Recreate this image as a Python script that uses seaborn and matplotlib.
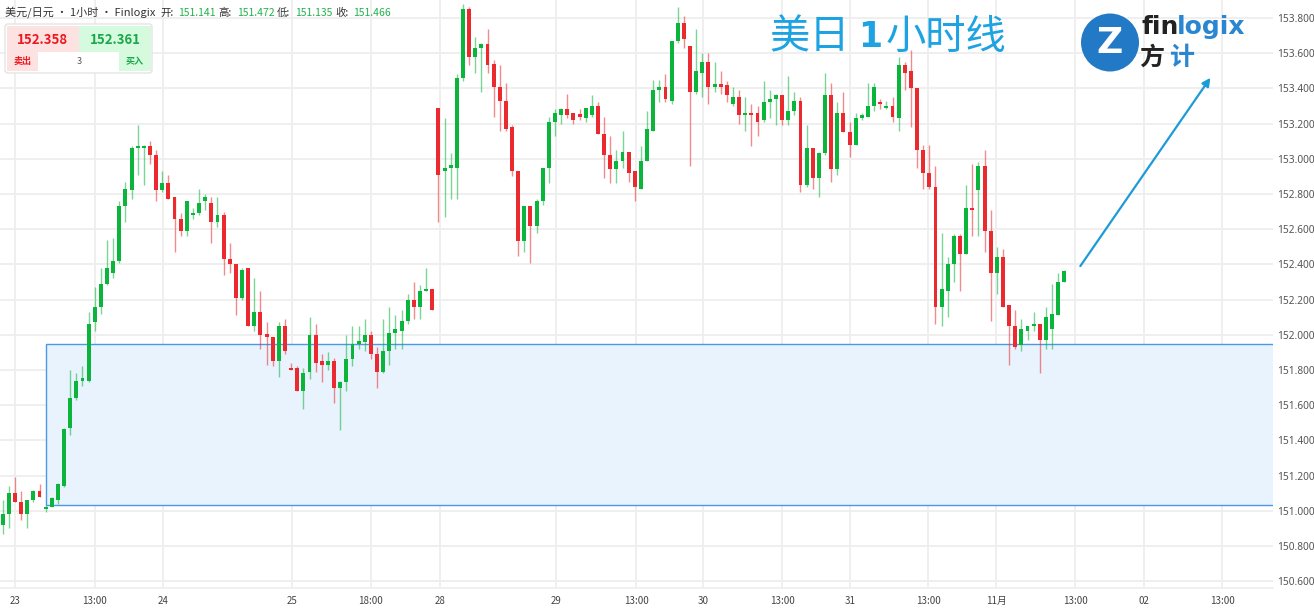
import numpy as np
import pandas as pd
import matplotlib
matplotlib.use("Agg")
import matplotlib.pyplot as plt
import seaborn as sns
from matplotlib.patches import Rectangle, FancyBboxPatch, Circle

# USD/JPY 1h candles
opens = [150.92, 150.98, 151.10, 151.05, 150.98, 151.06, 151.11, 151.01, 151.02, 151.06,
         151.141, 151.47, 151.64, 151.74, 151.74, 152.07, 152.16, 152.29, 152.35, 152.42,
         152.73, 152.82, 153.06, 153.06, 153.07, 153.02, 152.82, 152.86, 152.78, 152.66,
         152.59, 152.68, 152.69, 152.76, 152.75, 152.64, 152.68, 152.43, 152.40, 152.21,
         152.38, 152.05, 152.13, 152.00, 151.99, 151.85, 152.05, 151.81, 151.81, 151.68,
         151.79, 152.00, 151.85, 151.83, 151.85, 151.70, 151.73, 151.86, 151.95, 151.96,
         152.00, 151.89, 151.79, 151.91, 152.01, 152.02, 152.08, 152.20, 152.16, 152.25,
         152.26, 153.29, 152.93, 152.95, 152.95, 153.46, 153.85, 153.58, 153.63, 153.65,
         153.54, 153.41, 153.33, 153.18, 152.93, 152.53, 152.73, 152.62, 152.76, 152.95,
         153.21, 153.25, 153.28, 153.26, 153.25, 153.23, 153.25, 153.30, 153.14, 153.02,
         152.94, 152.99, 153.04, 152.93, 152.83, 152.99, 153.16, 153.39, 153.41, 153.33,
         153.67, 153.77, 153.64, 153.38, 153.49, 153.55, 153.41, 153.42, 153.42, 153.31,
         153.35, 153.25, 153.26, 153.26, 153.22, 153.32, 153.34, 153.36, 153.22, 153.27,
         153.33, 152.85, 153.06, 152.89, 153.03, 153.36, 152.94, 153.26, 153.15, 153.08,
         153.23, 153.24, 153.30, 153.32, 153.29, 153.30, 153.23, 153.53, 153.50, 153.40,
         153.05, 152.92, 152.84, 152.16, 152.25, 152.40, 152.56, 152.46, 152.72, 152.82,
         152.96, 152.59, 152.35, 152.44, 152.17, 152.05, 151.94, 152.02, 152.05, 152.06,
         151.97, 152.03, 152.11, 152.30]
highs = [151.06, 151.14, 151.19, 151.11, 151.06, 151.12, 151.15, 151.03, 151.08, 151.16,
         151.472, 151.80, 151.78, 151.82, 152.13, 152.27, 152.38, 152.54, 152.55, 152.76,
         152.87, 153.07, 153.19, 153.08, 153.10, 153.05, 152.93, 152.91, 152.78, 152.69,
         152.76, 152.72, 152.83, 152.80, 152.78, 152.78, 152.70, 152.52, 152.40, 152.38,
         152.38, 152.32, 152.25, 152.07, 151.99, 152.07, 152.09, 151.84, 151.82, 151.81,
         152.10, 152.06, 151.89, 151.90, 151.87, 151.74, 152.00, 152.05, 152.05, 152.09,
         152.02, 151.93, 152.09, 152.16, 152.11, 152.14, 152.23, 152.30, 152.28, 152.38,
         152.26, 153.29, 153.23, 153.03, 153.48, 153.88, 153.86, 153.69, 153.66, 153.74,
         153.56, 153.53, 153.43, 153.19, 152.93, 152.73, 152.73, 152.77, 152.95, 153.24,
         153.28, 153.29, 153.37, 153.26, 153.28, 153.29, 153.36, 153.32, 153.24, 153.13,
         153.05, 153.16, 153.04, 152.93, 153.07, 153.27, 153.45, 153.45, 153.48, 153.67,
         153.86, 153.81, 153.64, 153.74, 153.60, 153.60, 153.55, 153.50, 153.44, 153.41,
         153.39, 153.35, 153.31, 153.30, 153.44, 153.39, 153.37, 153.36, 153.47, 153.38,
         153.35, 153.19, 153.06, 153.04, 153.49, 153.43, 153.32, 153.38, 153.21, 153.26,
         153.26, 153.43, 153.43, 153.34, 153.33, 153.35, 153.58, 153.55, 153.62, 153.40,
         153.08, 153.08, 152.96, 152.58, 152.44, 152.57, 152.57, 152.85, 152.97, 152.98,
         153.05, 152.71, 152.50, 152.49, 152.17, 152.14, 152.09, 152.05, 152.13, 152.06,
         152.16, 152.29, 152.35, 152.37]
lows = [150.87, 150.90, 151.05, 150.95, 150.90, 151.05, 151.08, 150.99, 151.02, 151.04,
        151.135, 151.43, 151.63, 151.71, 151.73, 152.02, 152.12, 152.28, 152.32, 152.41,
        152.64, 152.77, 152.91, 152.85, 152.97, 152.76, 152.81, 152.77, 152.47, 152.56,
        152.56, 152.66, 152.68, 152.71, 152.52, 152.61, 152.34, 152.35, 152.11, 152.20,
        152.05, 152.02, 151.92, 151.83, 151.82, 151.76, 151.89, 151.80, 151.68, 151.58,
        151.75, 151.79, 151.73, 151.80, 151.61, 151.46, 151.68, 151.82, 151.92, 151.91,
        151.86, 151.70, 151.78, 151.83, 151.92, 151.92, 152.06, 152.09, 152.09, 152.25,
        152.14, 152.64, 152.67, 152.77, 152.77, 153.44, 153.53, 153.49, 153.38, 153.49,
        153.24, 153.16, 153.16, 152.90, 152.45, 152.47, 152.41, 152.58, 152.74, 152.86,
        153.13, 153.20, 153.23, 153.20, 153.22, 153.21, 153.24, 153.14, 152.89, 152.86,
        152.86, 152.95, 152.87, 152.76, 152.83, 152.99, 153.16, 153.32, 153.32, 153.31,
        153.66, 153.63, 152.96, 153.37, 153.35, 153.31, 153.38, 153.37, 153.32, 153.30,
        153.20, 153.16, 153.07, 153.13, 153.21, 153.23, 153.19, 153.19, 153.19, 153.25,
        152.81, 152.84, 152.83, 152.78, 153.02, 152.87, 152.91, 153.15, 153.01, 153.08,
        153.22, 153.24, 153.27, 153.28, 153.28, 153.21, 153.16, 153.39, 153.18, 152.95,
        152.83, 152.83, 152.06, 152.05, 152.10, 152.30, 152.25, 152.46, 152.56, 152.56,
        152.47, 152.08, 152.23, 152.16, 151.83, 151.92, 151.91, 151.97, 152.02, 151.78,
        151.92, 151.92, 152.11, 152.30]
closes = [150.98, 151.10, 151.05, 150.98, 151.06, 151.11, 151.08, 151.02, 151.07, 151.15,
          151.466, 151.64, 151.74, 151.75, 152.06, 152.16, 152.29, 152.38, 152.42, 152.73,
          152.83, 153.06, 153.07, 153.07, 153.02, 152.82, 152.86, 152.77, 152.66, 152.59,
          152.76, 152.69, 152.75, 152.78, 152.64, 152.68, 152.43, 152.40, 152.21, 152.37,
          152.05, 152.13, 152.00, 151.99, 151.85, 152.05, 151.91, 151.80, 151.68, 151.78,
          152.00, 151.84, 151.83, 151.85, 151.70, 151.73, 151.86, 151.95, 151.96, 152.00,
          151.89, 151.79, 151.91, 152.01, 152.03, 152.08, 152.20, 152.16, 152.25, 152.26,
          152.14, 152.91, 152.95, 152.96, 153.46, 153.85, 153.58, 153.63, 153.65, 153.53,
          153.41, 153.33, 153.17, 152.93, 152.53, 152.73, 152.62, 152.76, 152.95, 153.21,
          153.26, 153.28, 153.25, 153.22, 153.24, 153.29, 153.30, 153.14, 153.02, 152.94,
          152.99, 153.04, 152.92, 152.84, 152.99, 153.17, 153.39, 153.41, 153.34, 153.67,
          153.77, 153.68, 153.38, 153.50, 153.55, 153.41, 153.42, 153.41, 153.36, 153.35,
          153.25, 153.26, 153.25, 153.21, 153.32, 153.34, 153.36, 153.22, 153.27, 153.33,
          152.85, 153.06, 152.89, 153.03, 153.36, 152.94, 153.26, 153.15, 153.08, 153.23,
          153.25, 153.30, 153.41, 153.31, 153.30, 153.24, 153.53, 153.49, 153.40, 153.05,
          152.92, 152.84, 152.16, 152.26, 152.40, 152.56, 152.46, 152.72, 152.71, 152.96,
          152.59, 152.35, 152.44, 152.16, 152.05, 151.93, 152.03, 152.05, 152.06, 151.97,
          152.10, 152.12, 152.30, 152.36]

tick_pos = [2.0, 15.0, 26.1, 47.1, 60.0, 71.3, 90.2, 103.2, 114.1, 127.0,
            138.1, 150.8, 161.9, 174.8, 185.9, 198.7]
tick_labels = ['23', '13:00', '24', '25', '18:00', '28', '29', '13:00', '30', '13:00',
               '31', '13:00', '11月', '13:00', '02', '13:00']
price_ticks = [150.6, 150.8, 151.0, 151.2, 151.4, 151.6, 151.8, 152.0, 152.2,
               152.4, 152.6, 152.8, 153.0, 153.2, 153.4, 153.6, 153.8]

# support zone + projected move
zone_start = 7.0
zone_low = 151.033
zone_high = 151.947
arrow_from = (175.6, 152.39)
arrow_to = (196.8, 153.46)

GREEN = '#0bb53c'
RED = '#ea2a2f'
BLUE = '#1ea3e2'

sns.set_theme(style='white')
plt.rcParams['font.family'] = ['Noto Sans CJK SC', 'DejaVu Sans']

df = pd.DataFrame({'o': opens, 'h': highs, 'l': lows, 'c': closes})
df['i'] = np.arange(len(df))
df['up'] = df['c'] >= df['o']
cols = np.where(df['up'], GREEN, RED)

W, H = 1314, 608
fig = plt.figure(figsize=(W / 100, H / 100), dpi=100)
ax = fig.add_axes([0, 20 / H, 1273 / W, 588 / H])

ax.set_xlim(-0.44, 207.0)
ax.set_ylim(150.561, 153.902)
for p in price_ticks:
    ax.axhline(p, color='#eeeeee', lw=1.3, zorder=0)
for t in tick_pos:
    ax.axvline(t, color='#eeeeee', lw=1.3, zorder=0)

ax.add_patch(Rectangle((zone_start, zone_low), 300, zone_high - zone_low,
                       facecolor='#e8f3fe', edgecolor='#4a98e8', lw=1.0, zorder=1))

ax.vlines(df['i'], df['l'], df['h'], colors=cols, lw=1.0, alpha=0.55, zorder=3)
body = (df['c'] - df['o']).abs().clip(lower=0.012)
ax.bar(df['i'], body, bottom=np.minimum(df['o'], df['c']), width=0.64,
       color=cols, linewidth=0, zorder=4)

ax.annotate('', xy=arrow_to, xytext=arrow_from,
            arrowprops=dict(arrowstyle='-|>', color='#1d9bd7', lw=1.6,
                            mutation_scale=12, shrinkA=0, shrinkB=0), zorder=6)

ax.yaxis.tick_right()
ax.set_yticks(price_ticks)
ax.set_yticklabels([f'{p:.3f}' for p in price_ticks], fontsize=7.3, color='#555555',
                   family=['Noto Sans', 'DejaVu Sans'])
ax.set_xticks(tick_pos)
ax.set_xticklabels(tick_labels, fontsize=7, color='#444444')
ax.tick_params(axis='both', length=0)
ax.tick_params(axis='y', pad=3)
ax.tick_params(axis='x', pad=6)
for s in ['top', 'left', 'right']:
    ax.spines[s].set_visible(False)
ax.spines['bottom'].set_color('#eeeeee')
ax.grid(False)

# overlay in pixel coordinates for header, widget, title and logo
ov = fig.add_axes([0, 0, 1, 1], zorder=5)
ov.set_xlim(0, W)
ov.set_ylim(H, 0)
ov.axis('off')
ov.patch.set_alpha(0)

ov.text(5, 12.5, '美元/日元 · 1小时 · Finlogix', fontsize=8, color='#333333', va='center')
for lab, lx, val, vx in [('开:', 160, '151.141', 178), ('高:', 218, '151.472', 237),
                         ('低:', 277, '151.135', 295), ('收:', 335, '151.466', 353)]:
    ov.text(lx, 12.5, lab, fontsize=7.5, color='#333333', va='center')
    ov.text(vx, 12.5, val, fontsize=7.5, color='#22b24c', va='center')

ov.add_patch(FancyBboxPatch((5, 24), 147, 49, boxstyle='round,pad=0,rounding_size=3',
                            facecolor='white', edgecolor='#e4e4e4', lw=1))
ov.add_patch(Rectangle((7, 26), 72, 26, facecolor='#fde2e2', lw=0))
ov.add_patch(Rectangle((79, 26), 72, 26, facecolor='#d6fade', lw=0))
ov.add_patch(Rectangle((7, 52), 31, 19, facecolor='#fde2e2', lw=0))
ov.add_patch(Rectangle((119, 52), 32, 19, facecolor='#d6fade', lw=0))
ov.text(42, 40, '152.358', fontsize=9.5, color='#f01820', weight='bold', ha='center', va='center')
ov.text(115, 40, '152.361', fontsize=9.5, color='#1aa84a', weight='bold', ha='center', va='center')
ov.text(22, 61.5, '卖出', fontsize=6.5, color='#f01820', weight='bold', ha='center', va='center')
ov.text(79, 61.5, '3', fontsize=6.5, color='#555555', ha='center', va='center')
ov.text(135, 61.5, '买入', fontsize=6.5, color='#1aa84a', weight='bold', ha='center', va='center')

ov.text(769, 37, '美日', fontsize=29, color=BLUE, va='center')
ov.text(858, 37, '1', fontsize=25, color=BLUE, weight='bold', va='center',
        family='DejaVu Sans')
ov.text(886, 37, '小时线', fontsize=29, color=BLUE, va='center')

ov.add_patch(Circle((1110, 42.5), 29, facecolor='#2279c6', edgecolor='none'))
ov.text(1110, 43, 'Z', fontsize=26, color='white', weight='bold', ha='center', va='center',
        family='DejaVu Sans')
ov.text(1141, 27, 'fin', fontsize=18, color='#222222', weight='bold', va='center',
        family='DejaVu Sans')
ov.text(1177, 27, 'logix', fontsize=18, color='#2a86d0', weight='bold', va='center',
        family='DejaVu Sans')
ov.text(1139, 58, '方', fontsize=18, color='#222222', weight='bold', va='center')
ov.text(1169, 58, '计', fontsize=18, color='#2a86d0', weight='bold', va='center')

fig.savefig('out.png', dpi=100)
